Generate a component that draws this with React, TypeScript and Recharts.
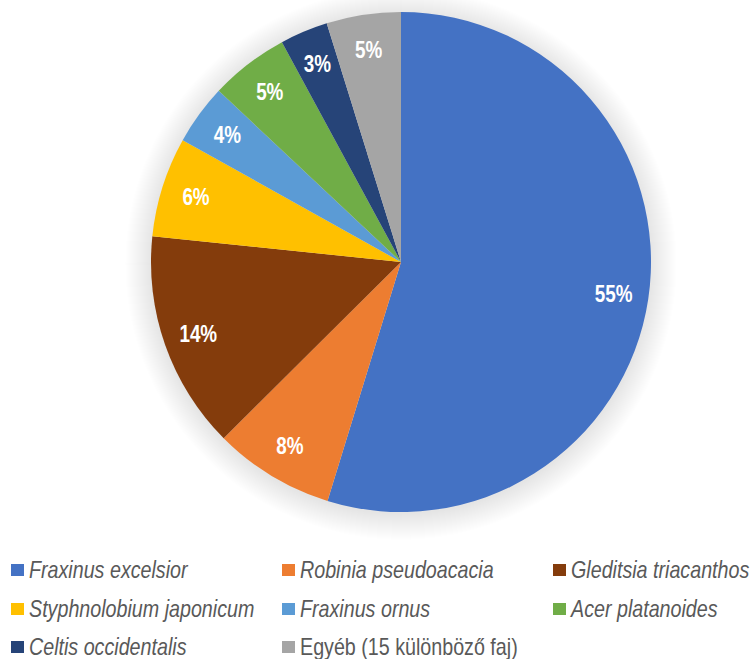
import { Cell, Legend, Pie, PieChart } from 'recharts';

// Street tree species share (%)
const species = [
  'Fraxinus excelsior',
  'Robinia pseudoacacia',
  'Gleditsia triacanthos',
  'Styphnolobium japonicum',
  'Fraxinus ornus',
  'Acer platanoides',
  'Celtis occidentalis',
  'Egyéb (15 különböző faj)',
];
const shares = [54.75, 7.8, 14.1, 6.45, 3.9, 5.1, 3.1, 4.8];
const colors = ['#4472C4', '#ED7D31', '#843C0C', '#FFC000', '#5B9BD5', '#70AD47', '#264478', '#A5A5A5'];

const data = species.map((name, i) => ({ name, value: shares[i] }));

const CX = 401;
const CY = 262;
const R = 250;

const RADIAN = Math.PI / 180;
const font = "'Liberation Sans', Arial, sans-serif";
// no narrow face installed, so squeeze the regular one horizontally
const SQUEEZE = 0.82;

// stacked translucent discs fake a soft shadow round the pie
const shadowSteps = Array.from({ length: 26 }, (_, k) => 26 - k);

const renderLabel = (props: any) => {
  const { cx, cy, midAngle, outerRadius, percent } = props;
  const r = outerRadius * 0.86;
  const x = cx + r * Math.cos(-midAngle * RADIAN);
  const y = cy + r * Math.sin(-midAngle * RADIAN);
  return (
    <text
      transform={`translate(${x},${y}) scale(${SQUEEZE},1)`}
      x={0}
      y={0}
      fill="#fff"
      textAnchor="middle"
      dominantBaseline="central"
      fontFamily={font}
      fontWeight="bold"
      fontSize={23}
    >
      {`${Math.round(percent * 100)}%`}
    </text>
  );
};

const colLeft = [11, 282, 553];
const rowMid = [570, 609, 647];
const LEGEND_TOP = 540;

const renderLegend = () => (
  <div style={{ position: 'relative', width: 751, height: 119 }}>
    {species.map((name, i) => (
      <div
        key={name}
        style={{
          position: 'absolute',
          left: colLeft[i % 3],
          top: rowMid[Math.floor(i / 3)] - LEGEND_TOP - 15,
          height: 30,
          display: 'flex',
          alignItems: 'center',
        }}
      >
        <span style={{ width: 13, height: 12, background: colors[i], marginRight: 5, flexShrink: 0 }} />
        <span
          style={{
            display: 'inline-block',
            fontFamily: font,
            fontSize: 24,
            lineHeight: '30px',
            color: '#595959',
            fontStyle: name.startsWith('Egyéb') ? 'normal' : 'italic',
            whiteSpace: 'nowrap',
            transform: `scaleX(${SQUEEZE})`,
            transformOrigin: 'left center',
          }}
        >
          {name}
        </span>
      </div>
    ))}
  </div>
);

export default function App() {
  return (
    <div style={{ position: 'absolute', left: 0, top: 0, width: 751, height: 659, background: '#fff', overflow: 'hidden' }}>
      <PieChart width={751} height={659} margin={{ top: 0, right: 0, bottom: 0, left: 0 }}>
        {shadowSteps.map((k) => (
          <Pie
            key={`shadow-${k}`}
            data={[{ name: 'shadow', value: 1 }]}
            dataKey="value"
            cx={CX}
            cy={CY + 2}
            outerRadius={R + k}
            startAngle={90}
            endAngle={-270}
            fill="#000"
            fillOpacity={0.0045}
            stroke="none"
            isAnimationActive={false}
            label={false}
            labelLine={false}
          />
        ))}
        <Pie
          data={data}
          dataKey="value"
          nameKey="name"
          cx={CX}
          cy={CY}
          outerRadius={R}
          startAngle={90}
          endAngle={-270}
          stroke="none"
          isAnimationActive={false}
          labelLine={false}
          label={renderLabel}
        >
          {data.map((d, i) => (
            <Cell key={d.name} fill={colors[i]} />
          ))}
        </Pie>
        <Legend
          content={renderLegend}
          wrapperStyle={{ left: 0, top: LEGEND_TOP, width: 751, height: 119 }}
        />
      </PieChart>
    </div>
  );
}
